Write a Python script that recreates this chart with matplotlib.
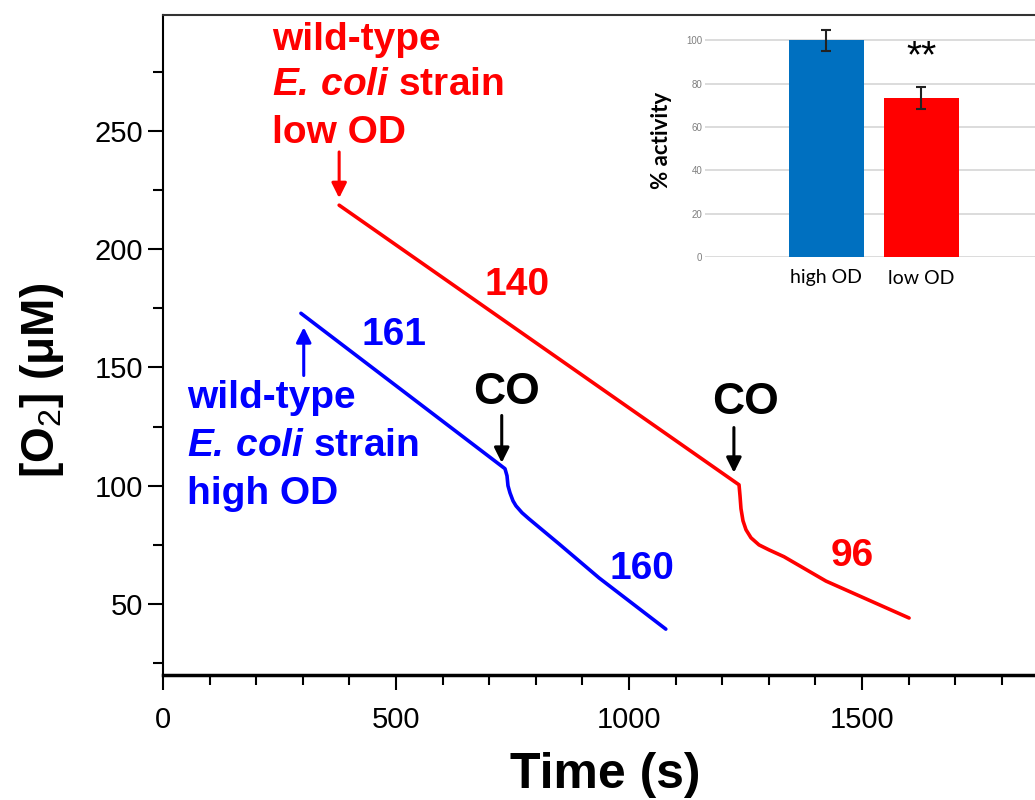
import numpy as np
import matplotlib
matplotlib.use('Agg')
import matplotlib.pyplot as plt
from matplotlib.ticker import MultipleLocator

plt.rcParams['font.family'] = ['Liberation Sans', 'DejaVu Sans']
plt.rcParams['mathtext.fontset'] = 'custom'
plt.rcParams['mathtext.rm'] = 'Liberation Sans'
plt.rcParams['mathtext.bf'] = 'Liberation Sans:bold'
plt.rcParams['mathtext.it'] = 'Liberation Sans:italic'
plt.rcParams['mathtext.bfit'] = 'Liberation Sans:italic:bold'

# curvas de O2
t_low = [378, 1236.1, 1238.2, 1240.3, 1244.6, 1251.1, 1261.8, 1279.0, 1300.4,
         1332.6, 1422.7, 1601]
o2_low = [218.6, 100.4, 95.8, 90.3, 85.2, 81.4, 78.0, 75.0, 72.9,
          70.0, 59.7, 44.1]
t_high = [296, 733.9, 738.2, 740.3, 744.6, 751.1, 757.5, 770.4, 785.4,
          850, 936, 1079]
o2_high = [172.9, 107.2, 104.2, 100.0, 97.0, 93.6, 91.5, 88.6, 86.0,
           75.4, 61.0, 39.4]

# velocidades
rate_labels_low = ['140', '96']
rate_labels_high = ['161', '160']

# inset: % actividad
inset_cats = ['high OD', 'low OD']
inset_vals = [100, 73.4]
inset_err = [4.8, 5.2]

RED = '#FF0000'
BLUE = '#0000FF'

fig = plt.figure(figsize=(10.35, 8), dpi=100)
ax = fig.add_axes([163/1035, 1 - 675/800, 932/1035, 660/800])

ax.plot(t_low, o2_low, color=RED, lw=2.6, solid_capstyle='round', solid_joinstyle='round')
ax.plot(t_high, o2_high, color=BLUE, lw=2.6, solid_capstyle='round', solid_joinstyle='round')

ax.set_xlim(0, 2000)
ax.set_ylim(20, 299)
ax.xaxis.set_minor_locator(MultipleLocator(100))
ax.yaxis.set_minor_locator(MultipleLocator(25))
ax.set_xticks([0, 500, 1000, 1500])
ax.set_yticks([50, 100, 150, 200, 250])
ax.tick_params(which='major', length=11, width=1.5, labelsize=21, direction='out')
ax.tick_params(which='minor', length=7, width=1.5, direction='out')
ax.tick_params(axis='x', pad=11)
for s in ['left', 'top', 'right']:
    ax.spines[s].set_linewidth(1.5)
ax.spines['bottom'].set_linewidth(2.5)
ax.spines['top'].set_color('#333333')

fig.text(605/1035, 1 - 775/800, 'Time (s)', fontsize=36, fontweight='bold',
         ha='center', va='center')
fig.text(42/1035, 1 - 380/800, r'[O$_\mathrm{2}$] (μM)', fontsize=33, fontweight='bold',
         rotation=90, ha='center', va='center')

big = dict(fontsize=28, fontweight='bold')
# etiquetas de cepa
ecoli = r'$\mathbfit{E.\,coli}$ strain'
for i, line in enumerate(['wild-type', ecoli, 'low OD']):
    ax.text(234, [288.6, 269.5, 249.2][i], line, color=RED, ha='left', va='center', **big)
for i, line in enumerate(['wild-type', ecoli, 'high OD']):
    ax.text(51.5, [137.3, 116.9, 96.6][i], line, color=BLUE, ha='left', va='center', **big)

arrow = dict(arrowstyle='-|>,head_width=0.45,head_length=0.9', lw=2.2, shrinkA=0, shrinkB=0)
ax.annotate('', xy=(t_low[0], 221.6), xytext=(t_low[0], 241.1),
            arrowprops=dict(color=RED, **arrow))
ax.annotate('', xy=(t_high[0] + 6, 167), xytext=(t_high[0] + 6, 146.6),
            arrowprops=dict(color=BLUE, **arrow))
ax.annotate('', xy=(t_high[1] - 7, 109.7), xytext=(t_high[1] - 7, 129.7),
            arrowprops=dict(color='black', **arrow))
ax.annotate('', xy=(t_low[1] - 11, 105.5), xytext=(t_low[1] - 11, 124.6),
            arrowprops=dict(color='black', **arrow))
ax.text(738, 139.4, 'CO', fontsize=32, fontweight='bold', ha='center', va='center')
ax.text(1251, 135.2, 'CO', fontsize=32, fontweight='bold', ha='center', va='center')

ax.text(760, 184.7, rate_labels_low[0], color=RED, ha='center', va='center', **big)
ax.text(1479, 70.3, rate_labels_low[1], color=RED, ha='center', va='center', **big)
ax.text(496, 163.6, rate_labels_high[0], color=BLUE, ha='center', va='center', **big)
ax.text(1028, 64.8, rate_labels_high[1], color=BLUE, ha='center', va='center', **big)

# inset
ins = fig.add_axes([705/1035, 1 - 257/800, 335/1035, 232/800])
xpos = np.arange(len(inset_cats))
ins.bar(xpos, inset_vals, width=0.79, color=['#0070C0', RED], zorder=3)
ins.errorbar(xpos, inset_vals, yerr=inset_err, fmt='none', ecolor='#222222',
             elinewidth=1.5, capsize=3.5, capthick=1.5, zorder=4)
ins.set_xlim(-1.274, 2.25)
ins.set_ylim(0, 107)
ins.set_yticks([0, 20, 40, 60, 80, 100])
ins.yaxis.grid(True, color='#D9D9D9', lw=1.3, zorder=0)
ins.set_xticks(xpos)
ins.set_xticklabels(inset_cats, fontsize=14, family=['Lato', 'DejaVu Sans'])
ins.tick_params(axis='y', length=0, labelsize=7, labelcolor='#7F7F7F', pad=2)
ins.tick_params(axis='x', length=0, pad=9)
for s in ins.spines.values():
    s.set_visible(False)
ins.set_facecolor('none')
ins.text(1, 92, '**', fontsize=28, ha='center', va='center')
fig.text(662/1035, 1 - 140/800, '% activity', fontsize=16, fontweight='bold',
         family=['Lato', 'DejaVu Sans'], rotation=90, ha='center', va='center')

fig.savefig('out.png', dpi=100)
